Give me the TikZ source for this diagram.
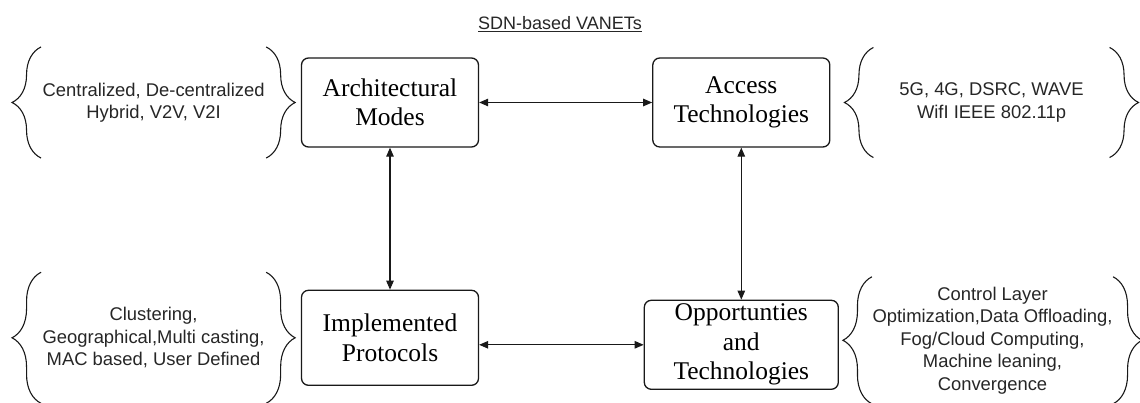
\documentclass[tikz,border=0pt]{standalone}
\usepackage{fontspec}
\setmainfont{Liberation Serif}
\setsansfont{Liberation Sans}
\usepackage{xcolor}
\usetikzlibrary{positioning,decorations.pathreplacing,arrows.meta}

\begin{document}
\begin{tikzpicture}[<->,>={Triangle[length=9pt,width=7.5pt]},line width=1.1pt,draw=black!90,
                block/.style={draw,rounded corners=7pt,line width=1.3pt,align=center,inner sep=2pt,minimum width=177pt,minimum height=89pt,font=\fontsize{25.5}{29.5}\selectfont},
                items/.style={align=center,inner sep=0pt,text=black!85,font=\sffamily\fontsize{18.4}{22.5}\selectfont},
                brc/.style={-,decorate,decoration={brace,amplitude=29pt},line width=1.1pt}]
                \useasboundingbox (0,0) rectangle (1140pt,-403pt);
                \node[text=black!85,font=\sffamily\fontsize{18}{22}\selectfont] (title) at (560pt,-24pt) {\underline{SDN-based VANETs}};
                \node[block] (arch) at (390pt,-102.5pt) {Architectural\\Modes};
                \node[block] (access) [right=173pt of arch] {Access\\Technologies};
                \node[block,minimum height=95pt] (impl) [below=142pt of arch] {Implemented\\Protocols};
                \node[block,minimum width=194pt] (opp) [below=152pt of access] {Opportunties\\and\\Technologies};
                \node[items,minimum width=224pt,minimum height=110pt] (archtxt) [left=34.7pt of arch] {Centralized, De-centralized\\Hybrid, V2V, V2I};
                \node[items,minimum width=235pt,minimum height=109pt] (accesstxt) [right=43pt of access] {5G, 4G, DSRC, WAVE\\WifI IEEE 802.11p};
                \node[items,minimum width=224pt,minimum height=130pt] (impltxt) [left=34.7pt of impl] {Clustering,\\Geographical,Multi casting,\\MAC based, User Defined};
                \node[items,minimum width=237pt,minimum height=126pt,yshift=4.5pt] (opptxt) [right=33pt of opp] {Control Layer\\Optimization,Data Offloading,\\Fog/Cloud Computing,\\Machine leaning,\\Convergence};
                \draw (arch) -- (access);
                \draw (arch) -- (impl);
                \draw (access) -- (opp);
                \draw (opp.west) -- (impl.east |- opp.west);
                \foreach \n in {archtxt,accesstxt,impltxt,opptxt}{
                    \draw[brc] (\n.south west) -- (\n.north west);
                    \draw[brc] (\n.north east) -- (\n.south east);
                }
            \end{tikzpicture}
\end{document}
